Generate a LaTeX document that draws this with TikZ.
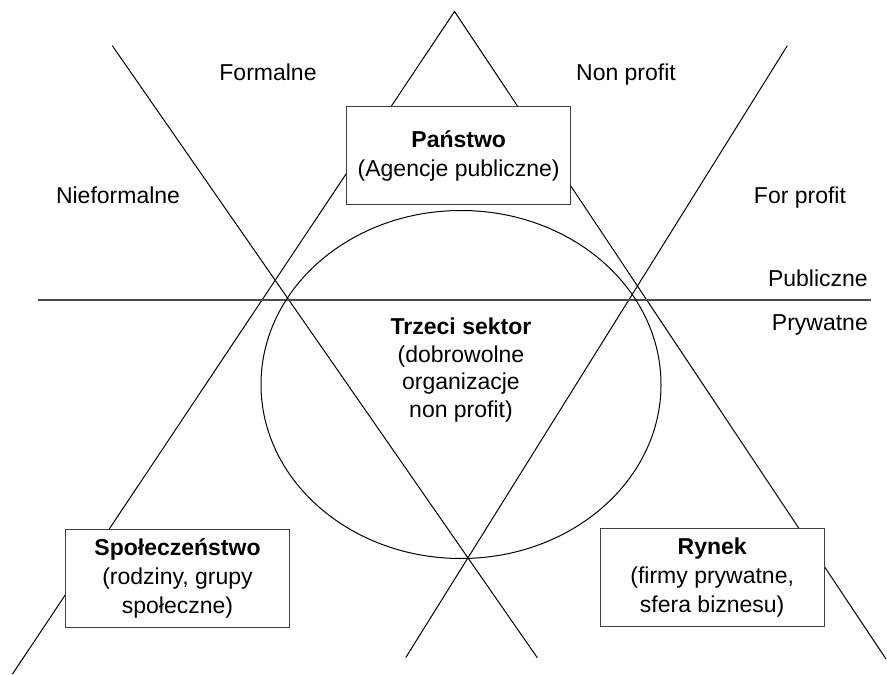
\documentclass[tikz,border=0pt]{standalone}
\usepackage{fontspec}
\setmainfont{Liberation Sans}
\begin{document}
\begin{tikzpicture}[x=1pt,y=-1pt,
  thin line/.style={line width=1pt,black},
  divider/.style={line width=1.6pt,black!70},
  sectorbox/.style={draw=black!75,line width=1.3pt,fill=white,
    minimum width=224pt,minimum height=98pt,inner sep=0pt,
    align=center,font=\fontsize{23}{29}\selectfont},
  label/.style={font=\fontsize{23}{28}\selectfont,inner sep=0pt}]
  \useasboundingbox (0,0) rectangle (887,675);

  % end points of the crossing lines
  \coordinate (apex) at (454.5,11.5);
  \coordinate (triL) at (12.5,674);
  \coordinate (triR) at (886,659);
  \coordinate (fallA) at (112.3,45.7);
  \coordinate (fallB) at (537.3,657.7);
  \coordinate (riseA) at (787.3,45.7);
  \coordinate (riseB) at (405.7,657.7);
  \coordinate (hL) at (38,300);
  \coordinate (hR) at (871,300);

  % big triangle sides and the two crossing lines
  \draw[thin line] (triL) -- (apex) -- (triR);
  \draw[thin line] (fallA) -- (fallB);
  \draw[thin line] (riseA) -- (riseB);

  % public / private divider
  \draw[divider] (hL) -- (hR);

  % third sector
  \draw[thin line] (461,384.5) ellipse [x radius=200, y radius=174];
  \node[label,align=center,font=\fontsize{23}{27.5}\selectfont] (trzeci) at (461,370)
    {\textbf{Trzeci sektor}\\(dobrowolne\\organizacje\\non profit)};

  % the three sectors
  \node[sectorbox] (panstwo) at (458.7,155.8)
    {\textbf{Państwo}\\(Agencje publiczne)};
  \node[sectorbox] (spol) at (177.5,578.3)
    {\textbf{Społeczeństwo}\\(rodziny, grupy\\społeczne)};
  \node[sectorbox] (rynek) at (712.2,577.5)
    {\textbf{Rynek}\\(firmy prywatne,\\sfera biznesu)};

  % side labels
  \node[label,anchor=base] (formalne) at (268,80) {Formalne};
  \node[label,anchor=base] (nonprofit) at (626,80) {Non profit};
  \node[label,anchor=base] (nieformalne) at (118,203) {Nieformalne};
  \node[label,anchor=base] (forprofit) at (800,203) {For profit};
  \node[label,anchor=base east] (publiczne) at (868,286.5) {Publiczne};
  \node[label,anchor=base east] (prywatne) at (868,330) {Prywatne};
\end{tikzpicture}
\end{document}
